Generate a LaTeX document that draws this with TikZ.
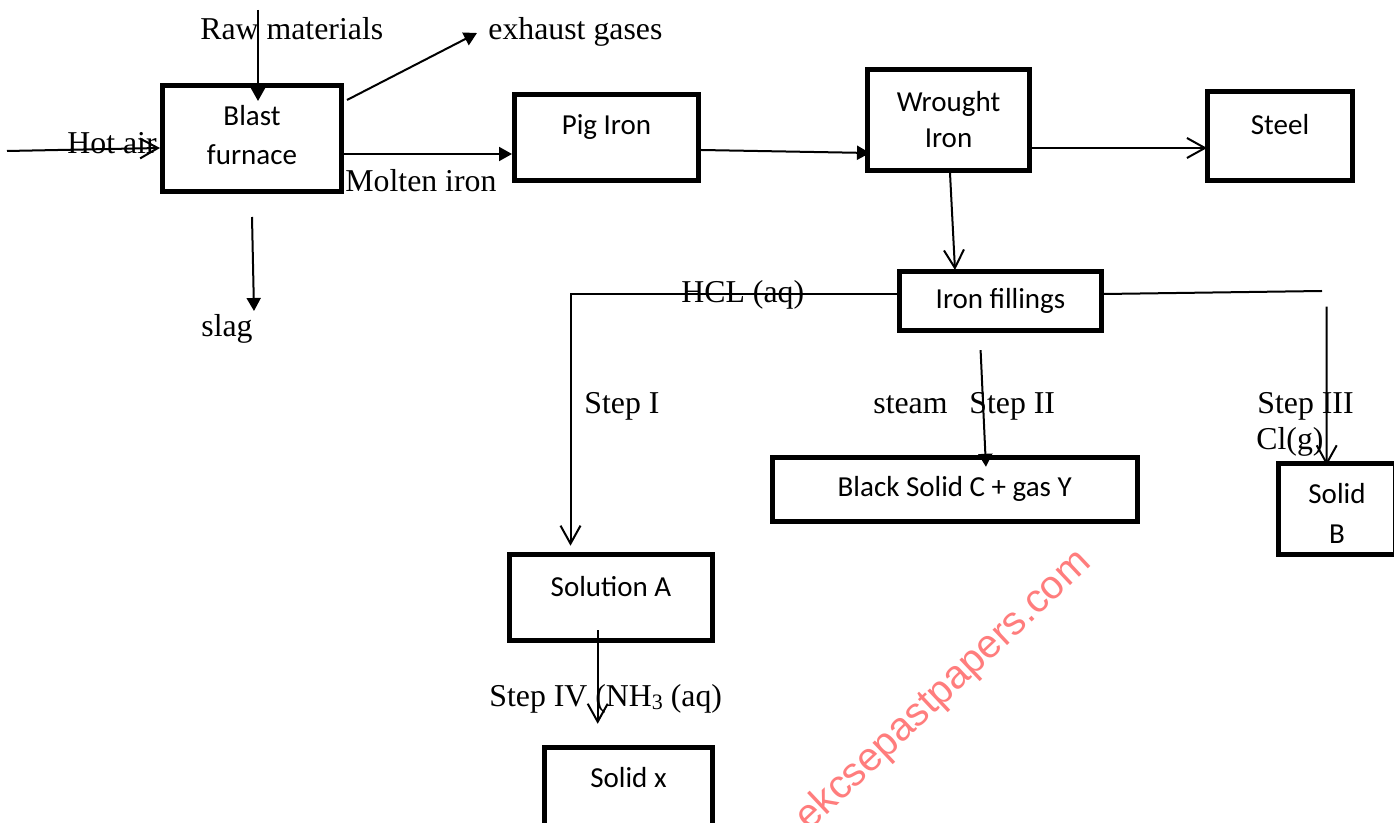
\documentclass[tikz,border=0pt]{standalone}
\usepackage{fontspec}
\setmainfont{Liberation Serif}
\newfontfamily\boxfont{Carlito}
\newfontfamily\wmfont{Liberation Sans}
\usetikzlibrary{arrows.meta}
\definecolor{wmred}{RGB}{255,125,125}
\begin{document}
\begin{tikzpicture}[x=0.5pt,y=-0.5pt,
  box/.style={draw, line width=2.5pt, inner sep=0pt, outer sep=1.25pt},
  boxtxt/.style={font=\boxfont\fontsize{14.5}{19}\selectfont, align=center, inner sep=0pt},
  lbl/.style={font=\fontsize{15.9}{19}\selectfont, inner sep=0pt, anchor=base west},
  conn/.style={line width=1pt},
  opentip/.style={-{Straight Barb[length=9pt,width=10pt]}},
  filltip/.style={-{Triangle[length=6.5pt,width=7pt]}},
  wm/.style={font=\wmfont\fontsize{20}{20}\selectfont, text=wmred, inner sep=0pt}]
\useasboundingbox (0,0) rectangle (1394,823);
\fill[white] (0,0) rectangle (1394,823);
\clip (0,0) rectangle (1394,823);

% watermark
\node[wm, rotate=43.3, anchor=base west] (wmark) at (809,832) {ekcsepastpapers.com};

% boxes
\node[box, minimum width=89.5pt, minimum height=53pt,
  label={[boxtxt, font=\boxfont\fontsize{14.5}{19.5}\selectfont, yshift=1.5pt]center:Blast\\furnace}] (bf) at (252,138.5) {};
\node[box, minimum width=92pt, minimum height=43pt,
  label={[boxtxt, yshift=5.25pt]center:Pig Iron}] (pig) at (606.5,137.5) {};
\node[box, minimum width=81pt, minimum height=50.5pt,
  label={[boxtxt, font=\boxfont\fontsize{14.5}{18}\selectfont]center:Wrought\\Iron}] (wr) at (948.5,120) {};
\node[box, minimum width=72.5pt, minimum height=44.5pt,
  label={[boxtxt, yshift=5.5pt]center:Steel}] (steel) at (1280,136) {};
\node[box, minimum width=101pt, minimum height=29.5pt,
  label={[boxtxt]center:Iron fillings}] (if) at (1000.5,301) {};
\node[box, minimum width=182.75pt, minimum height=32pt,
  label={[boxtxt, yshift=0.5pt]center:Black Solid C + gas Y}] (bs) at (954.75,489.5) {};
\node[box, minimum width=58.5pt, minimum height=45.5pt,
  label={[boxtxt, font=\boxfont\fontsize{14.5}{20}\selectfont, yshift=-2pt]center:Solid\\B}] (solB) at (1337,509) {};
\node[box, minimum width=101.5pt, minimum height=42.75pt,
  label={[boxtxt, yshift=5.4pt]center:Solution A}] (solA) at (611,597.75) {};
\node[box, minimum width=84pt, minimum height=41pt,
  label={[boxtxt, yshift=5.25pt]center:Solid x}] (solX) at (628.5,788.5) {};

% free-standing labels
\node[lbl] (traw) at (200,40) {Raw materials};
\node[lbl] (texh) at (488,40) {exhaust gases};
\node[lbl] (thot) at (67,154) {Hot air};
\node[lbl] (tmol) at (345,192) {Molten iron};
\node[lbl] (tslag) at (201,337) {slag};
\node[lbl] (thcl) at (681,303) {HCL (aq)};
\node[lbl] (ts1) at (584,414) {Step I};
\node[lbl] (tsteam) at (873,414) {steam};
\node[lbl] (ts2) at (969,414) {Step II};
\node[lbl] (ts3) at (1257,414) {Step III};
\node[lbl] (tcl) at (1256,450) {Cl(g)};
\node[lbl] (ts4) at (489,707) {Step IV (NH{\fontsize{11}{11}\selectfont\raisebox{-1.5pt}{3}} (aq)};

% coordinates
\coordinate (ha) at (7,151);
\coordinate (rm) at (258,10);
\coordinate (egtip) at (477,33);
\coordinate (mi) at ([yshift=-7.75pt]bf.east);
\coordinate (slagtip) at (254,311);
\coordinate (hclstart) at ([yshift=3.5pt]if.west);
\coordinate (tipA) at ([xshift=-20.25pt,yshift=3.4pt]solA.north);
\coordinate (ifr) at (1322,291);
\coordinate (s3start) at (1326.7,306.7);

% connectors
\draw[conn, opentip] (ha) -- ([yshift=-4.75pt]bf.west);
\draw[conn, filltip] (rm) -- ([xshift=3pt,yshift=-9pt]bf.north);
\draw[conn, filltip] ([xshift=1.5pt,yshift=-8.5pt]bf.north east) -- (egtip);
\draw[conn, filltip] (mi) -- (mi -| pig.west);
\draw[conn, filltip] ([yshift=-11.5pt]bf.south) -- (slagtip);
\draw[conn, filltip] ([yshift=-6.25pt]pig.east) -- ([xshift=2.5pt,yshift=-16.5pt]wr.west);
\draw[conn, opentip] ([yshift=-14pt]wr.east) -- ([xshift=1pt,yshift=-6pt]steel.west);
\draw[conn, opentip] ([xshift=0.75pt]wr.south) -- ([xshift=-22.75pt,yshift=-0.5pt]if.north);
\draw[conn, opentip] (hclstart) -| (tipA);
\draw[conn] ([yshift=3.5pt]if.east) -- (ifr);
\draw[conn, opentip] (s3start) -- ([xshift=-5.15pt,yshift=-2.2pt]solB.north);
\draw[conn, filltip] ([xshift=-9.95pt,yshift=-8.6pt]if.south) -- ([xshift=15.6pt,yshift=-5.9pt]bs.north);
\draw[conn, opentip] ([xshift=-6.65pt,yshift=6.4pt]solA.south) -- ([xshift=-15.4pt,yshift=10.6pt]solX.north);
\end{tikzpicture}
\end{document}
